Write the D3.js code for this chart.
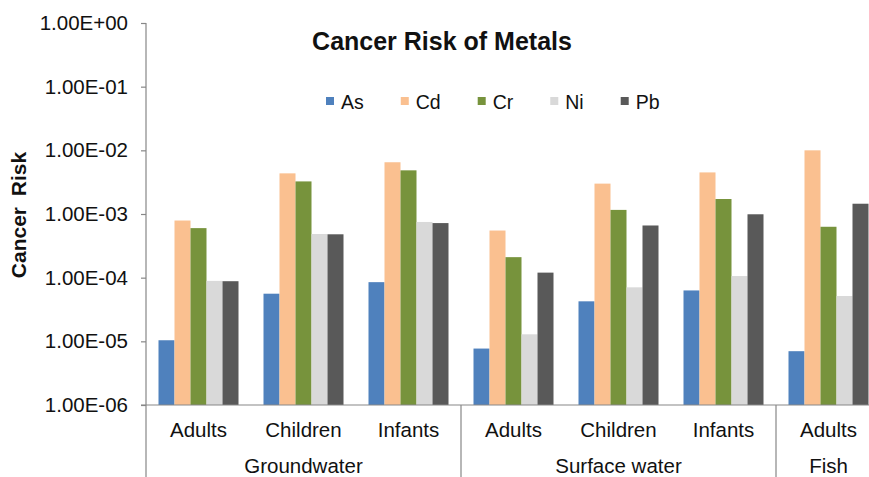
<!DOCTYPE html>
<html>
<head>
<meta charset="utf-8">
<script src="https://cdn.jsdelivr.net/npm/d3@7"></script>
<style>
  html, body { margin: 0; padding: 0; background: #fff; }
  svg { display: block; font-family: "Liberation Sans", Arial, Helvetica, sans-serif; }
</style>
</head>
<body>
<svg id="chart" width="869" height="477"></svg>
<script>
// ---- data ----
const title = "Cancer Risk of Metals";
const yTitle = "Cancer Risk";
const metals = ["As", "Cd", "Cr", "Ni", "Pb"];
const colors = ["#4F81BD", "#FAC090", "#77933C", "#D9D9D9", "#595959"];
const subCategories = ["Adults", "Children", "Infants", "Adults", "Children", "Infants", "Adults"];
const groups = ["Groundwater", "Groundwater", "Groundwater", "Surface water", "Surface water", "Surface water", "Fish"];
const groupNames = ["Groundwater", "Surface water", "Fish"];
const As = [1.04e-5, 5.6e-5, 8.5e-5, 7.7e-6, 4.25e-5, 6.3e-5, 7.0e-6];
const Cd = [7.9e-4, 4.35e-3, 6.5e-3, 5.5e-4, 3.0e-3, 4.5e-3, 1.0e-2];
const Cr = [6.0e-4, 3.25e-3, 4.85e-3, 2.1e-4, 1.16e-3, 1.72e-3, 6.3e-4];
const Ni = [8.9e-5, 4.85e-4, 7.5e-4, 1.29e-5, 7.05e-5, 1.06e-4, 5.15e-5];
const Pb = [8.8e-5, 4.8e-4, 7.2e-4, 1.2e-4, 6.6e-4, 9.9e-4, 1.45e-3];
const series = [As, Cd, Cr, Ni, Pb];
const yTicks = [1, 1e-1, 1e-2, 1e-3, 1e-4, 1e-5, 1e-6];

// ---- layout ----
const svg = d3.select("#chart");
const axisColor = "#878787";
const left = 146, plotTop = 23, plotBottom = 405, catWidth = 105;
const labelSize = 20.5;

const y = d3.scaleLog().domain([1e-6, 1]).range([plotBottom, plotTop]);
const catIdx = subCategories.map((d, i) => i);
const x0 = d3.scaleBand().domain(catIdx).range([left, left + catWidth * catIdx.length]).paddingInner(0).paddingOuter(0);
const x1 = d3.scaleBand().domain(metals).range([0, x0.bandwidth()]).paddingInner(0).paddingOuter(0.78125);

// bars
const gBars = svg.append("g");
metals.forEach((m, si) => {
  gBars.selectAll(null)
    .data(series[si])
    .join("rect")
    .attr("x", (d, i) => x0(i) + x1(m))
    .attr("width", x1.bandwidth())
    .attr("y", d => y(d))
    .attr("height", d => y(1e-6) - y(d))
    .attr("fill", colors[si]);
});

// y axis
const fmt = v => {
  const e = Math.round(Math.log10(v));
  const sign = e < 0 ? "-" : "+";
  return "1.00E" + sign + String(Math.abs(e)).padStart(2, "0");
};
const yAxis = d3.axisLeft(y).tickValues(yTicks).tickFormat(fmt).tickSize(5).tickSizeOuter(0).tickPadding(13);
const gy = svg.append("g").attr("transform", `translate(${left},0)`).call(yAxis);
gy.select(".domain").remove();
gy.selectAll(".tick line").attr("stroke", axisColor).attr("stroke-width", 1.2);
gy.selectAll(".tick text").attr("font-size", labelSize).attr("fill", "#111").attr("font-family", "Liberation Sans, Arial, sans-serif");

// y axis line (extends down through category labels)
svg.append("line").attr("x1", left).attr("x2", left).attr("y1", plotTop).attr("y2", 477)
  .attr("stroke", axisColor).attr("stroke-width", 1.2);

// x axis line
svg.append("line").attr("x1", left - 5).attr("x2", 869).attr("y1", y(1e-6)).attr("y2", y(1e-6))
  .attr("stroke", axisColor).attr("stroke-width", 1.2);

// group separators
catIdx.forEach(i => {
  if (i > 0 && groups[i] !== groups[i - 1]) {
    svg.append("line").attr("x1", x0(i)).attr("x2", x0(i)).attr("y1", y(1e-6)).attr("y2", 477)
      .attr("stroke", axisColor).attr("stroke-width", 1.2);
  }
});

// sub category labels
svg.append("g").selectAll("text").data(subCategories).join("text")
  .attr("x", (d, i) => x0(i) + x0.bandwidth() / 2)
  .attr("y", 437)
  .attr("text-anchor", "middle")
  .attr("font-size", labelSize)
  .attr("fill", "#111")
  .text(d => d);

// group labels
groupNames.forEach(g => {
  const idx = catIdx.filter(i => groups[i] === g);
  const x1s = x0(idx[0]);
  const x2s = x0(idx[idx.length - 1]) + x0.bandwidth();
  svg.append("text")
    .attr("x", (x1s + x2s) / 2)
    .attr("y", 473)
    .attr("text-anchor", "middle")
    .attr("font-size", labelSize)
    .attr("fill", "#111")
    .text(g);
});

// title
svg.append("text").attr("x", 442).attr("y", 50).attr("text-anchor", "middle")
  .attr("font-size", 25).attr("font-weight", "bold").attr("fill", "#111").text(title);

// y title
svg.append("text").attr("transform", "translate(26,215) rotate(-90)").attr("text-anchor", "middle")
  .attr("font-size", 21).attr("font-weight", "bold").attr("word-spacing", 5).attr("fill", "#111").text(yTitle);

// legend
const legend = svg.append("g");
let lx = 326;
metals.forEach((m, i) => {
  legend.append("rect").attr("x", lx).attr("y", 97).attr("width", 8).attr("height", 8).attr("fill", colors[i]);
  const t = legend.append("text").attr("x", lx + 15).attr("y", 108.5).attr("font-size", 19.5).attr("fill", "#111").text(m);
  lx += 15 + t.node().getComputedTextLength() + 37;
});
</script>
</body>
</html>
